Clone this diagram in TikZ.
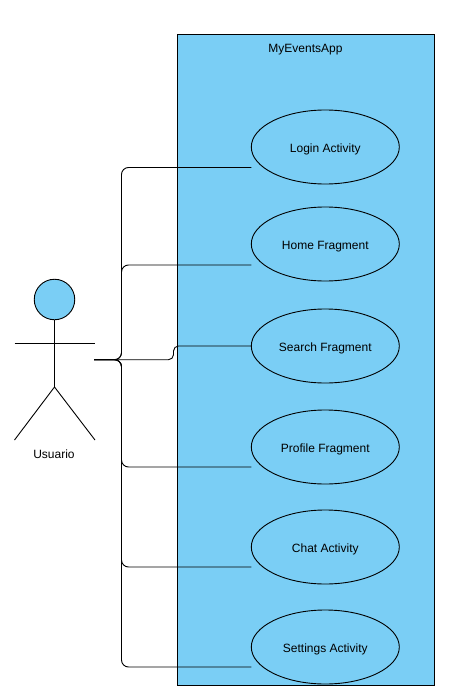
\documentclass[tikz,border=0pt]{standalone}
\usepackage{fontspec}
\setmainfont{Liberation Sans}
\usetikzlibrary{shapes.geometric,calc}
\definecolor{appblue}{HTML}{7ACEF5}
\begin{document}
\begin{tikzpicture}[
    x=1pt, y=-1pt,
    line width=0.9pt,
    every node/.style={font=\fontsize{12}{14}\selectfont, text height=10pt, text depth=0pt},
    usecase/.style={ellipse, draw, fill=appblue, minimum width=148pt, minimum height=74pt, inner sep=0pt, outer sep=0pt},
    link/.style={rounded corners=7pt}
]
    \useasboundingbox (0,0) rectangle (460,693);

    % --- SYSTEM BOX ---
    \node[draw, fill=appblue, minimum width=257pt, minimum height=650.5pt, inner sep=0pt, outer sep=0pt] (app) at (306,359.75) {};
    \node (apptitle) at (305.5,47.5) {MyEventsApp};

    % --- ACTOR ---
    \node[circle, draw, fill=appblue, minimum size=40.5pt, inner sep=0pt, outer sep=0pt] (head) at (54.5,299.5) {};
    \coordinate (hip) at (54.5,387);
    \coordinate (armL) at (14.5,343.5);
    \coordinate (armR) at (95,343.5);
    \coordinate (footL) at (14.5,440);
    \coordinate (footR) at (95,440);
    \draw (head.south) -- (hip);
    \draw (armL) -- (armR);
    \draw (footL) -- (hip) -- (footR);
    \node (usuario) at (54,453.5) {Usuario};

    % Use cases
    \node[usecase] (login) at (325.3,147) {Login Activity};
    \node[usecase] (home) at (325.3,244) {Home Fragment};
    \node[usecase] (search) at (325.3,346) {Search Fragment};
    \node[usecase] (profile) at (325.3,447) {Profile Fragment};
    \node[usecase] (chat) at (325.3,547) {Chat Activity};
    \node[usecase] (settings) at (325.3,647) {Settings Activity};

    % --- CONNECTORS ---

    % Free ends
    \coordinate (hub) at (94,359.7);
    \coordinate (trunk) at (121.5,359.7);
    \coordinate (endlogin) at ($(login.west)+(0,20.5)$);
    \coordinate (endhome) at ($(home.west)+(0,21)$);
    \coordinate (endprofile) at ($(profile.west)+(0,20)$);
    \coordinate (endchat) at ($(chat.west)+(0,20)$);
    \coordinate (endsettings) at ($(settings.west)+(0,20)$);

    \draw[link] (hub) -- (trunk) -- (trunk |- endlogin) -- (endlogin);
    \draw[link] (hub) -- (trunk) -- (trunk |- endhome) -- (endhome);
    \draw[link] (hub) -- (trunk) -- (trunk |- endprofile) -- (endprofile);
    \draw[link] (hub) -- (trunk) -- (trunk |- endchat) -- (endchat);
    \draw[link] (hub) -- (trunk) -- (trunk |- endsettings) -- (endsettings);
    \draw[rounded corners=5pt] (hub) -- (173.5,359.7) -- (173.5,346) -- (search.west);
\end{tikzpicture}
\end{document}
